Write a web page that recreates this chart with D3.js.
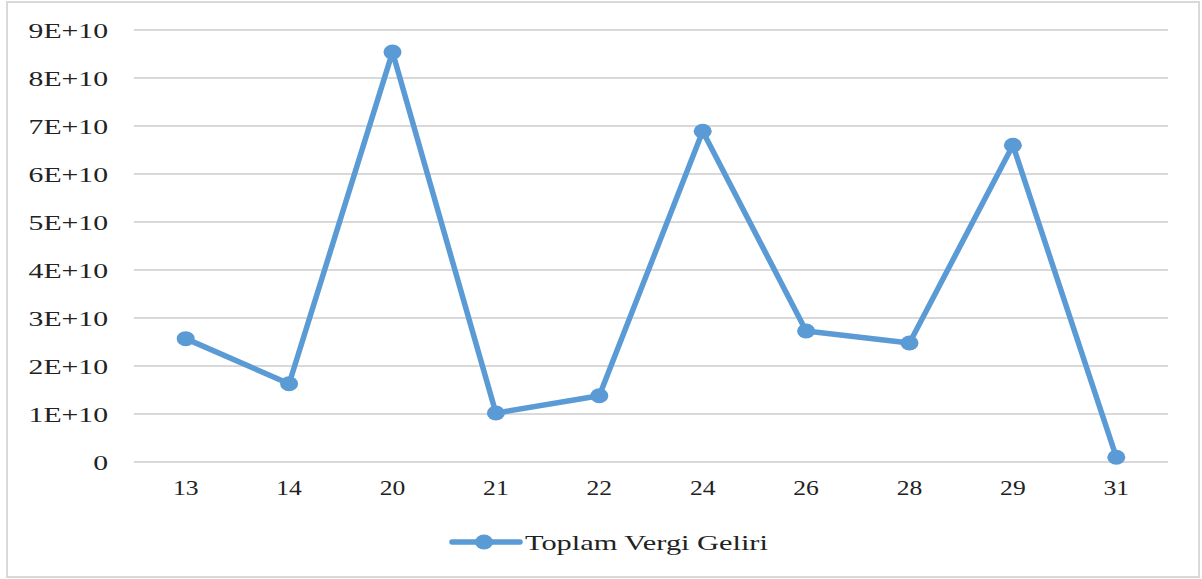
<!DOCTYPE html>
<html>
<head>
<meta charset="utf-8">
<script src="https://cdn.jsdelivr.net/npm/d3@7"></script>
<style>
  body { margin: 0; background: #fff; }
  text { font-family: "Liberation Serif", "Times New Roman", serif; fill: #222; }
</style>
</head>
<body>
<div id="chart"></div>
<script>
// Chart data
var categories = ["13", "14", "20", "21", "22", "24", "26", "28", "29", "31"];
var taxIncome = [2.57e10, 1.63e10, 8.54e10, 1.02e10, 1.38e10, 6.89e10, 2.73e10, 2.48e10, 6.60e10, 0.10e10];
var yTicks = [0, 1e10, 2e10, 3e10, 4e10, 5e10, 6e10, 7e10, 8e10, 9e10];
var yTickLabels = ["0", "1E+10", "2E+10", "3E+10", "4E+10", "5E+10", "6E+10", "7E+10", "8E+10", "9E+10"];
var seriesName = "Toplam Vergi Geliri";

var svgWidth = 1202;
var svgHeight = 579;
var color = "#5B9BD5";

var margin = { top: 30, right: 34, bottom: 117, left: 134 };
var chartWidth = svgWidth - margin.left - margin.right;
var chartHeight = svgHeight - margin.top - margin.bottom;

var svg = d3.select("#chart")
  .append("svg")
  .attr("width", svgWidth)
  .attr("height", svgHeight);

// outer frame
svg.append("rect")
  .attr("x", 7)
  .attr("y", 2)
  .attr("width", 1192)
  .attr("height", 575)
  .attr("fill", "none")
  .attr("stroke", "#d9d9d9")
  .attr("stroke-width", 2);

var chartGroup = svg.append("g")
  .attr("transform", `translate(${margin.left}, ${margin.top})`);

var x = d3.scaleBand()
  .domain(categories)
  .range([0, chartWidth]);

var y = d3.scaleLinear()
  .domain([0, 9e10])
  .range([chartHeight, 0]);

// gridlines
chartGroup.append("g")
  .selectAll("line")
  .data(yTicks)
  .enter()
  .append("line")
  .attr("x1", 0)
  .attr("x2", chartWidth)
  .attr("y1", d => y(d))
  .attr("y2", d => y(d))
  .attr("stroke", "#d9d9d9")
  .attr("stroke-width", 2);

// y axis labels (the source font is drawn wider, so stretch horizontally)
var yStretch = 1.35;
var yAxis = chartGroup.append("g")
  .call(d3.axisLeft(y).tickValues(yTicks).tickSize(0)
    .tickFormat((d, i) => yTickLabels[i]));
yAxis.select(".domain").remove();
yAxis.selectAll("text")
  .attr("x", -26 / yStretch)
  .attr("dy", "0.36em")
  .attr("transform", `scale(${yStretch},1)`)
  .style("font-family", "'Liberation Serif', serif")
  .style("font-size", "22px")
  .attr("fill", "#222");

// x axis labels
var xStretch = 1.22;
var xAxis = chartGroup.append("g")
  .attr("transform", "translate(0," + chartHeight + ")")
  .call(d3.axisBottom(x).tickSize(0).tickPadding(18));
xAxis.select(".domain").remove();
xAxis.selectAll(".tick")
  .each(function() {
    var t = d3.select(this);
    var tr = t.attr("transform");
    t.attr("transform", tr + ` scale(${xStretch},1)`);
  });
xAxis.selectAll("text")
  .style("font-family", "'Liberation Serif', serif")
  .style("font-size", "21px")
  .attr("fill", "#222");

var cx = d => x(d) + x.bandwidth() / 2;

// series line
var line = d3.line()
  .x((d, i) => cx(categories[i]))
  .y(d => y(d));

chartGroup.append("path")
  .datum(taxIncome)
  .attr("d", line)
  .attr("fill", "none")
  .attr("stroke", color)
  .attr("stroke-width", 5.5)
  .attr("stroke-linejoin", "round");

chartGroup.append("g")
  .selectAll("ellipse")
  .data(taxIncome)
  .enter()
  .append("ellipse")
  .attr("cx", (d, i) => cx(categories[i]))
  .attr("cy", d => y(d))
  .attr("rx", 9)
  .attr("ry", 7.5)
  .attr("fill", color);

// legend
var legend = svg.append("g")
  .attr("transform", "translate(450, 542)");
legend.append("line")
  .attr("x1", 2)
  .attr("x2", 70)
  .attr("stroke", color)
  .attr("stroke-width", 5.5)
  .attr("stroke-linecap", "round");
legend.append("ellipse")
  .attr("cx", 34)
  .attr("rx", 9)
  .attr("ry", 7.5)
  .attr("fill", color);
legend.append("text")
  .attr("transform", "translate(75,0) scale(1.38,1)")
  .attr("dy", "0.35em")
  .style("font-size", "22px")
  .text(seriesName);
</script>
</body>
</html>
